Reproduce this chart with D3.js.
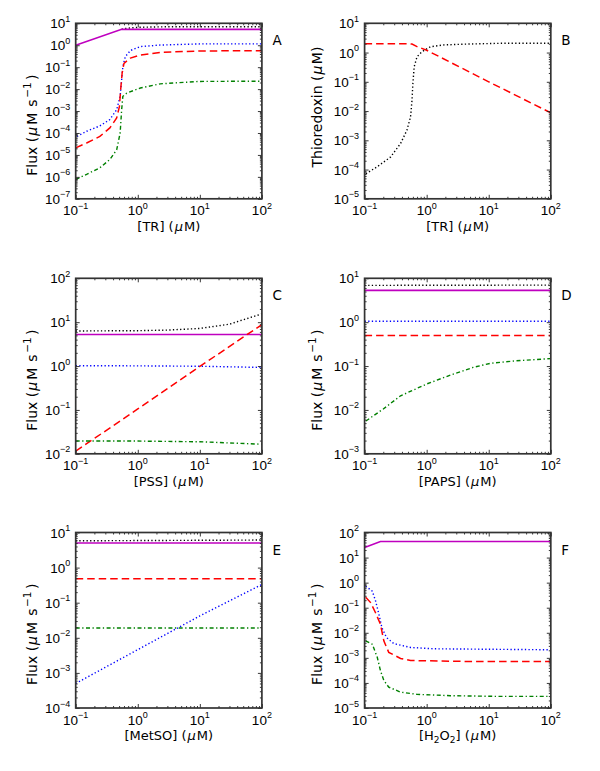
<!DOCTYPE html>
<html><head><meta charset="utf-8">
<script src="https://cdn.jsdelivr.net/npm/d3@7"></script>
<style>
body{margin:0;background:#fff}
text{fill:#000}
.tk{font-family:"Liberation Sans",Arial,sans-serif}
.lb{font-family:"DejaVu Sans",sans-serif}
</style>
</head><body>
<svg id="c" width="600" height="771"></svg>
<script>
// ---------------- DATA ----------------
// Panel A : flux vs [TR]
const A_black_x = [0.55, 0.6, 0.8, 1.1, 2.3, 10, 100];
const A_black_y = [5.3, 5.75, 6.2, 6.6, 6.9, 7.0, 7.0];
const A_mag_x = [0.1, 0.55, 100];
const A_mag_y = [1.0, 5.3, 5.3];
const A_blue_x = [0.105, 0.15, 0.245, 0.355, 0.457, 0.52, 0.55, 0.575, 0.63, 0.76, 1.1, 2.3, 10, 100];
const A_blue_y = [7e-5, 1.2e-4, 2.1e-4, 4.1e-4, 1.15e-3, 4.7e-3, 2.6e-2, 0.107, 0.30, 0.575, 0.87, 1.02, 1.15, 1.15];
const A_red_x = [0.1, 0.15, 0.245, 0.355, 0.457, 0.506, 0.53, 0.56, 0.6, 0.76, 1.1, 2.3, 10, 100];
const A_red_y = [2.1e-5, 3.5e-5, 7e-5, 1.7e-4, 4.8e-4, 1.6e-3, 9.3e-3, 0.054, 0.15, 0.26, 0.36, 0.47, 0.55, 0.56];
const A_green_x = [0.1, 0.15, 0.245, 0.355, 0.457, 0.52, 0.55, 0.575, 0.665, 1.1, 2.3, 10, 100];
const A_green_y = [7.6e-7, 1.3e-6, 2.6e-6, 6.2e-6, 1.7e-5, 1e-4, 1.15e-3, 4.7e-3, 6.6e-3, 0.0112, 0.0174, 0.0224, 0.023];

// Panel B : thioredoxin vs [TR]
const B_red_x = [0.1, 0.5, 0.58, 0.7, 1, 10, 100];
const B_red_y = [2.0, 2.0, 1.95, 1.6, 1.2, 0.1, 0.0087];
const B_black_x = [0.105, 0.158, 0.263, 0.38, 0.48, 0.55, 0.58, 0.6, 0.63, 0.7, 0.84, 1.15, 1.86, 4.47, 15, 100];
const B_black_y = [7.2e-5, 1.23e-4, 2.7e-4, 7.8e-4, 2.2e-3, 6.3e-3, 0.023, 0.089, 0.33, 0.72, 1.07, 1.58, 1.82, 1.95, 2.07, 2.07];

// Panel C : flux vs [PSS]
const C_black_x = [0.1, 1, 3, 10, 30, 100];
const C_black_y = [6.3, 6.4, 6.6, 7.2, 9.0, 15.5];
const C_mag_x = [0.1, 100];
const C_mag_y = [5.25, 5.25];
const C_blue_x = [0.1, 1, 10, 100];
const C_blue_y = [1.02, 1.01, 0.99, 0.93];
const C_red_x = [0.1, 1, 10, 100];
const C_red_y = [0.0115, 0.105, 0.98, 8.8];
const C_green_x = [0.1, 1, 10, 100];
const C_green_y = [0.0196, 0.0195, 0.0188, 0.0165];

// Panel D : flux vs [PAPS]
const D_black_x = [0.1, 100];
const D_black_y = [6.9, 7.0];
const D_mag_x = [0.1, 100];
const D_mag_y = [5.3, 5.3];
const D_blue_x = [0.1, 100];
const D_blue_y = [1.05, 1.05];
const D_red_x = [0.1, 100];
const D_red_y = [0.5, 0.5];
const D_green_x = [0.105, 0.2, 0.38, 1.0, 2.4, 5.6, 10.5, 28, 100];
const D_green_y = [0.0056, 0.0105, 0.021, 0.039, 0.062, 0.093, 0.115, 0.132, 0.148];

// Panel E : flux vs [MetSO]
const E_black_x = [0.1, 100];
const E_black_y = [5.8, 6.1];
const E_mag_x = [0.1, 100];
const E_mag_y = [5.0, 5.0];
const E_red_x = [0.1, 100];
const E_red_y = [0.48, 0.48];
const E_green_x = [0.1, 100];
const E_green_y = [0.019, 0.019];
const E_blue_x = [0.1, 1, 10, 100];
const E_blue_y = [5e-4, 4.6e-3, 0.042, 0.33];

// Panel F : flux vs [H2O2]
const F_mag_x = [0.1, 0.18, 100];
const F_mag_y = [25.5, 44, 44];
const F_blue_x = [0.104, 0.133, 0.15, 0.17, 0.19, 0.225, 0.295, 0.55, 1.29, 100];
const F_blue_y = [0.72, 0.46, 0.19, 0.055, 0.016, 6.5e-3, 3.7e-3, 2.6e-3, 2.3e-3, 2.1e-3];
const F_red_x = [0.104, 0.125, 0.15, 0.18, 0.204, 0.245, 0.38, 0.55, 4.5, 100];
const F_red_y = [0.26, 0.16, 0.063, 0.022, 4.8e-3, 1.66e-3, 9.5e-4, 7.8e-4, 7.2e-4, 7.2e-4];
const F_green_x = [0.104, 0.133, 0.16, 0.18, 0.204, 0.245, 0.38, 0.7, 2.4, 15, 100];
const F_green_y = [4.8e-3, 3.5e-3, 1.05e-3, 3.1e-4, 1.26e-4, 6.8e-5, 4.3e-5, 3.5e-5, 3.1e-5, 2.9e-5, 2.9e-5];

// axis ranges (exponents) and labels
const panelLetters = ["A", "B", "C", "D", "E", "F"];
const yExpRanges = [[-7, 1], [-5, 1], [-2, 2], [-3, 1], [-4, 1], [-5, 2]];
const xExpRange = [-1, 2];
const xLabels = ["TR", "TR", "PSS", "PAPS", "MetSO", "H2O2"];
const yLabels = ["Flux", "Thioredoxin", "Flux", "Flux", "Flux", "Flux"];

// ---------------- STYLE ----------------
const styles = {
  black: {stroke: "#000", dash: "1.3,2.3", w: 1.4},
  mag:   {stroke: "#bf00bf", dash: null, w: 1.6},
  blue:  {stroke: "#0000ff", dash: "1.3,2.3", w: 1.4},
  red:   {stroke: "#ff0000", dash: "7.5,4", w: 1.5},
  green: {stroke: "#008000", dash: "4,2.5,1.3,2.5", w: 1.4}
};

const panels = [
  {series: [["black", A_black_x, A_black_y], ["mag", A_mag_x, A_mag_y], ["blue", A_blue_x, A_blue_y], ["red", A_red_x, A_red_y], ["green", A_green_x, A_green_y]]},
  {series: [["black", B_black_x, B_black_y], ["red", B_red_x, B_red_y]]},
  {series: [["black", C_black_x, C_black_y], ["mag", C_mag_x, C_mag_y], ["blue", C_blue_x, C_blue_y], ["red", C_red_x, C_red_y], ["green", C_green_x, C_green_y]]},
  {series: [["black", D_black_x, D_black_y], ["mag", D_mag_x, D_mag_y], ["blue", D_blue_x, D_blue_y], ["red", D_red_x, D_red_y], ["green", D_green_x, D_green_y]]},
  {series: [["black", E_black_x, E_black_y], ["mag", E_mag_x, E_mag_y], ["red", E_red_x, E_red_y], ["green", E_green_x, E_green_y], ["blue", E_blue_x, E_blue_y]]},
  {series: [["mag", F_mag_x, F_mag_y], ["blue", F_blue_x, F_blue_y], ["red", F_red_x, F_red_y], ["green", F_green_x, F_green_y]]}
];

const colLeft = [75.7, 364.6];
const rowTop = [23.3, 278.3, 532.5];
const W = 186.2, H = 175.5;
const yLabelOffset = [-38.5, -43];

const svg = d3.select("#c");

function supLabel(sel, exp) {
  sel.append("tspan").text("10");
  sel.append("tspan").attr("dy", -6.5).attr("font-size", 9).text(exp < 0 ? "\u2212" + (-exp) : String(exp));
}

panels.forEach((p, i) => {
  const col = i % 2, row = Math.floor(i / 2);
  const x0 = colLeft[col], y0 = rowTop[row];
  const g = svg.append("g").attr("transform", `translate(${x0},${y0})`);
  const [e0, e1] = yExpRanges[i];
  const x = d3.scaleLog().domain([Math.pow(10, xExpRange[0]), Math.pow(10, xExpRange[1])]).range([0, W]);
  const y = d3.scaleLog().domain([Math.pow(10, e0), Math.pow(10, e1)]).range([H, 0]);

  const clipId = "clip" + i;
  g.append("clipPath").attr("id", clipId).append("rect").attr("width", W).attr("height", H);

  // lines
  const line = d3.line().x(d => x(d[0])).y(d => y(d[1]));
  const lg = g.append("g").attr("clip-path", `url(#${clipId})`);
  p.series.forEach(([key, xs, ys]) => {
    const st = styles[key];
    lg.append("path")
      .datum(xs.map((v, k) => [v, ys[k]]))
      .attr("d", line)
      .attr("fill", "none")
      .attr("stroke", st.stroke)
      .attr("stroke-width", st.w)
      .attr("stroke-dasharray", st.dash)
      .attr("stroke-linecap", "butt");
  });

  // ticks
  const xMajor = d3.range(xExpRange[0], xExpRange[1] + 1).map(e => Math.pow(10, e));
  const yMajor = d3.range(e0, e1 + 1).map(e => Math.pow(10, e));
  const minorOf = (a, b) => { const r = []; for (let e = a; e < b; e++) for (let m = 2; m <= 9; m++) r.push(m * Math.pow(10, e)); return r; };
  const xMinor = minorOf(xExpRange[0], xExpRange[1]);
  const yMinor = minorOf(e0, e1);

  const mk = (axisFn, scale, vals, size, tx, ty) => {
    const a = g.append("g").attr("transform", `translate(${tx},${ty})`)
      .call(axisFn(scale).tickValues(vals).tickSize(size).tickFormat(""));
    a.select(".domain").remove();
    a.selectAll("line").attr("stroke", "#222").attr("stroke-width", 0.9);
  };
  mk(d3.axisBottom, x, xMajor, -4, 0, H);
  mk(d3.axisBottom, x, xMinor, -2, 0, H);
  mk(d3.axisTop, x, xMajor, -4, 0, 0);
  mk(d3.axisTop, x, xMinor, -2, 0, 0);
  mk(d3.axisLeft, y, yMajor, -4, 0, 0);
  mk(d3.axisLeft, y, yMinor, -2, 0, 0);
  mk(d3.axisRight, y, yMajor, -4, W, 0);
  mk(d3.axisRight, y, yMinor, -2, W, 0);

  // frame
  g.append("rect").attr("width", W).attr("height", H)
    .attr("fill", "none").attr("stroke", "#333").attr("stroke-width", 1.7);

  // tick labels
  xMajor.forEach(v => {
    const t = g.append("text").attr("class", "tk").attr("x", x(v)).attr("y", H + 16.5)
      .attr("text-anchor", "middle").attr("font-size", 13.5);
    supLabel(t, Math.round(Math.log10(v)));
  });
  yMajor.forEach(v => {
    const t = g.append("text").attr("class", "tk").attr("x", -5.5).attr("y", y(v) + 5)
      .attr("text-anchor", "end").attr("font-size", 13.5);
    supLabel(t, Math.round(Math.log10(v)));
  });

  // x label
  const xl = g.append("text").attr("class", "lb").attr("x", W / 2).attr("y", H + 32)
    .attr("text-anchor", "middle").attr("font-size", 13);
  if (xLabels[i] === "H2O2") {
    xl.append("tspan").text("[H");
    xl.append("tspan").attr("font-size", 9).attr("dy", 3).text("2");
    xl.append("tspan").attr("dy", -3).text("O");
    xl.append("tspan").attr("font-size", 9).attr("dy", 3).text("2");
    xl.append("tspan").attr("dy", -3).text("] (");
  } else {
    xl.append("tspan").text("[" + xLabels[i] + "] (");
  }
  xl.append("tspan").attr("font-style", "italic").attr("dx", 1).text("\u03bc");
  xl.append("tspan").attr("dx", 1).text("M)");

  // y label
  const isFlux = yLabels[i] === "Flux";
  const yl = g.append("text").attr("class", "lb")
    .attr("transform", `translate(${yLabelOffset[col]},${H / 2 + (isFlux ? 14 : -4)}) rotate(-90)`)
    .attr("text-anchor", "middle").attr("font-size", 14);
  if (isFlux) {
    yl.append("tspan").text("Flux (");
    yl.append("tspan").attr("font-style", "italic").attr("dx", 1).text("\u03bc");
    yl.append("tspan").attr("dx", 2).text("M");
    yl.append("tspan").attr("dx", 6).text("s");
    yl.append("tspan").attr("dx", 1.5).attr("dy", -6).attr("font-size", 10.5).text("\u22121");
    yl.append("tspan").attr("dx", 2.5).attr("dy", 6).text(")");
  } else {
    yl.append("tspan").text("Thioredoxin (");
    yl.append("tspan").attr("font-style", "italic").attr("dx", 1).text("\u03bc");
    yl.append("tspan").attr("dx", 1.5).text("M)");
  }

  // panel letter
  g.append("text").attr("class", "lb").attr("x", W + 10.5).attr("y", 22).attr("font-size", 13.5).text(panelLetters[i]);
});
</script>
</body></html>
